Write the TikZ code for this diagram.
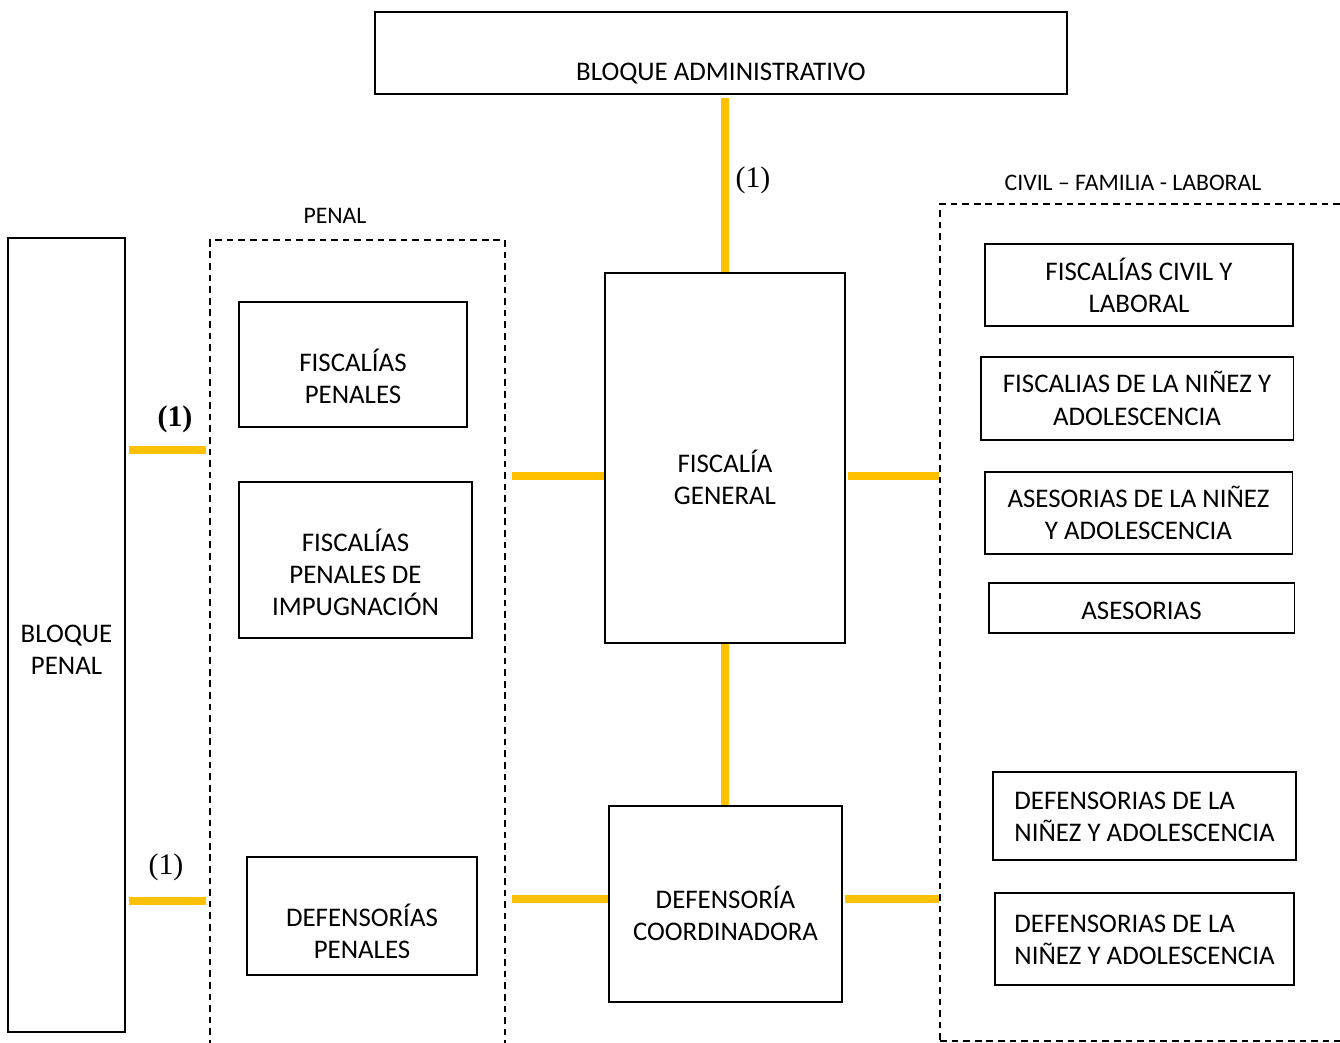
\documentclass[tikz,border=0pt]{standalone}
\usepackage{fontspec}
\setmainfont{Carlito}
\newfontfamily\serifnum{Liberation Serif}
\usepackage{xcolor}
\usetikzlibrary{positioning}
\definecolor{gold}{HTML}{FFC000}

\begin{document}
\begin{tikzpicture}[x=0.02cm, y=-0.02cm, block/.style={draw=black, line width=1.1pt, align=center, inner sep=2pt, font=\fontsize{15.3}{18.3}\selectfont}, group/.style={draw=black, line width=1.1pt, dash pattern=on 3.8pt off 2.8pt, inner sep=0pt}, grouptitle/.style={font=\fontsize{13.5}{15}\selectfont, inner sep=0pt}, note/.style={font=\serifnum\fontsize{17}{19}\selectfont, inner sep=0pt}, link/.style={draw=gold, line width=4.3pt}, lift/.style={text height=#1, text depth=0pt}]

    \clip (0,0) rectangle (1340,1043);

    %Nodes
    \node[block, minimum width=13.84cm, minimum height=1.64cm, lift=31.3pt](admin) at (721,53){BLOQUE ADMINISTRATIVO};
    \node[block, minimum width=4.8cm, minimum height=7.4cm, lift=53pt](fiscalia) at (725,458){FISCALÍA\\GENERAL};
    \node[block, minimum width=4.66cm, minimum height=3.92cm, lift=41.7pt](defensoria) at (725.5,904){DEFENSORÍA\\COORDINADORA};
    \node[block, minimum width=2.34cm, minimum height=15.88cm, lift=45.1pt](bloque_penal) at (66.5,635){BLOQUE\\PENAL};

    \node[group, minimum width=5.9cm, minimum height=17.2cm](penal) at (357.5,670){};
    \node[grouptitle](penal_title) at (335,216){PENAL};
    \node[group, minimum width=9.2cm, minimum height=16.74cm](civil) at (1170,622.5){};
    \node[grouptitle](civil_title) at (1133,183){CIVIL -- FAMILIA - LABORAL};

    \node[block, minimum width=4.56cm, minimum height=2.5cm, lift=44.5pt](fisc_penales) at (353,364.5){FISCALÍAS\\PENALES};
    \node[block, minimum width=4.66cm, minimum height=3.12cm, lift=63.4pt](fisc_impug)[below=1.06cm of fisc_penales, xshift=0.05cm]{FISCALÍAS\\PENALES DE\\IMPUGNACIÓN};
    \node[block, minimum width=4.6cm, minimum height=2.36cm, lift=48.5pt](def_penales) at (362,916){DEFENSORÍAS\\PENALES};

    \node[block, minimum width=6.16cm, minimum height=1.64cm, lift=31pt](fisc_civil) at (1139,285){FISCALÍAS CIVIL Y\\LABORAL};
    \node[block, minimum width=6.26cm, minimum height=1.66cm, lift=30.3pt](fisc_ninez)[below=0.58cm of fisc_civil, xshift=-0.04cm]{FISCALIAS DE LA NIÑEZ Y\\ADOLESCENCIA};
    \node[block, minimum width=6.16cm, minimum height=1.64cm, lift=30.3pt](ases_ninez)[below=0.6cm of fisc_ninez, xshift=0.03cm]{ASESORIAS DE LA NIÑEZ\\Y ADOLESCENCIA};
    \node[block, minimum width=6.12cm, minimum height=1.0cm, lift=13.2pt](asesorias)[below=0.54cm of ases_ninez, xshift=0.06cm]{ASESORIAS};
    \node[block, align=left, minimum width=6.06cm, minimum height=1.76cm, lift=29.1pt](def_ninez_a) at (1144.5,816){DEFENSORIAS DE LA\\NIÑEZ Y ADOLESCENCIA};
    \node[block, align=left, minimum width=5.98cm, minimum height=1.84cm, lift=29.1pt](def_ninez_b)[below=0.62cm of def_ninez_a]{DEFENSORIAS DE LA\\NIÑEZ Y ADOLESCENCIA};

    \node[note](admin_mark) at (753,180){(1)};
    \node[note](upper_mark) at (175,419){\textbf{(1)}};
    \node[note](lower_mark) at (166,867){(1)};

    \coordinate (upper) at (0,450);
    \coordinate (lower) at (0,901);
    \coordinate (mid_upper) at (0,476);
    \coordinate (mid_lower) at (0,899);

    %Lines
    \draw[link, shorten <=2pt] (admin.south -| fiscalia.north) -- (fiscalia.north);
    \draw[link] (fiscalia.south) -- (fiscalia.south |- defensoria.north);
    \draw[link, shorten <=1.5pt, shorten >=1.5pt] (bloque_penal.east |- upper) -- (penal.west |- upper);
    \draw[link, shorten <=1.5pt, shorten >=1.5pt] (bloque_penal.east |- lower) -- (penal.west |- lower);
    \draw[link, shorten <=3.5pt] (penal.east |- mid_upper) -- (fiscalia.west |- mid_upper);
    \draw[link, shorten <=1pt] (fiscalia.east |- mid_upper) -- (civil.west |- mid_upper);
    \draw[link, shorten <=3.5pt] (penal.east |- mid_lower) -- (defensoria.west |- mid_lower);
    \draw[link, shorten <=1pt] (defensoria.east |- mid_lower) -- (civil.west |- mid_lower);

\end{tikzpicture}
\end{document}
